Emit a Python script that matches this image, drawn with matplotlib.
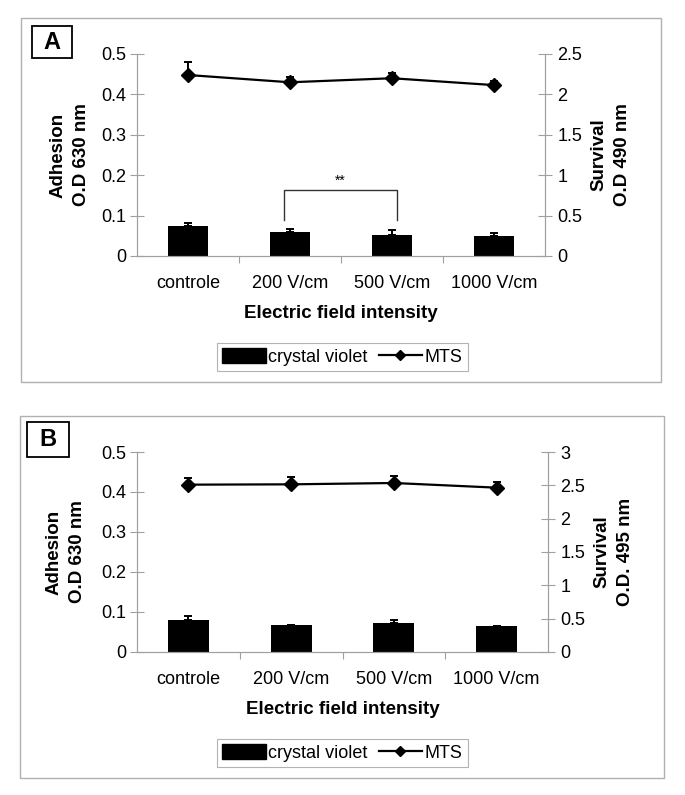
import matplotlib
matplotlib.use("Agg")
import matplotlib.pyplot as plt
from matplotlib.patches import Rectangle
from matplotlib.lines import Line2D
import numpy as np

plt.rcParams['font.family'] = ['Liberation Sans', 'DejaVu Sans']

categories = ["controle", "200 V/cm", "500 V/cm", "1000 V/cm"]

# Panel A
cv_A = [0.075, 0.059, 0.051, 0.050]
cv_A_err = [0.007, 0.007, 0.013, 0.008]
mts_A = [2.24, 2.15, 2.20, 2.115]
mts_A_err = [0.165, 0.065, 0.065, 0.05]

# Panel B
cv_B = [0.079, 0.067, 0.0725, 0.065]
cv_B_err = [0.010, 0.001, 0.008, 0.001]
mts_B = [2.51, 2.515, 2.535, 2.465]
mts_B_err = [0.105, 0.105, 0.105, 0.085]

left_ticks = [0, 0.1, 0.2, 0.3, 0.4, 0.5]
left_ticklabels = ["0", "0.1", "0.2", "0.3", "0.4", "0.5"]
right_ticks_A = [0, 0.5, 1, 1.5, 2, 2.5]
right_ticklabels_A = ["0", "0.5", "1", "1.5", "2", "2.5"]
right_ticks_B = [0, 0.5, 1, 1.5, 2, 2.5, 3]
right_ticklabels_B = ["0", "0.5", "1", "1.5", "2", "2.5", "3"]

W, H = 685, 795
fig = plt.figure(figsize=(W / 100, H / 100), dpi=100)

GRAY = "#a0a0a0"
TICK_FS = 13
CAT_FS = 13
LAB_FS = 13.5
LEG_FS = 13


def px(x0, y0, x1, y1):
    return [x0 / W, 1 - y1 / H, (x1 - x0) / W, (y1 - y0) / H]


def fx(x):
    return x / W


def fy(y):
    return 1 - y / H


def panel(axrect, boxrect, labelbox, letter, cv, cv_err, mts, mts_err,
          rticks, rlabels, rmax, rlabel, legend_rect, ylab_x, xlab_y, bracket=None):
    bx0, by0, bx1, by1 = boxrect
    fig.add_artist(Rectangle((fx(bx0), fy(by1)), (bx1 - bx0) / W, (by1 - by0) / H,
                             transform=fig.transFigure, fill=False, edgecolor="#b0b0b0", lw=1.0))
    lx0, ly0, lx1, ly1 = labelbox
    fig.add_artist(Rectangle((fx(lx0), fy(ly1)), (lx1 - lx0) / W, (ly1 - ly0) / H,
                             transform=fig.transFigure, fill=False, edgecolor="black", lw=1.3))
    fig.text(fx((lx0 + lx1) / 2), fy((ly0 + ly1) / 2 + 0.5), letter, ha="center", va="center",
             fontsize=17, fontweight="bold")

    ax = fig.add_axes(px(*axrect))
    x = np.arange(len(categories))
    ax.bar(x, cv, width=0.40, color="black", zorder=2)
    ax.errorbar(x, cv, yerr=[np.zeros(len(cv)), cv_err], fmt="none", ecolor="black",
                elinewidth=1.4, capsize=3.2, capthick=1.4, zorder=3)
    ax.set_xlim(-0.5, 3.5)
    ax.set_ylim(0, 0.5)
    ax.set_yticks(left_ticks)
    ax.set_yticklabels(left_ticklabels)
    ax.set_xticks(x)
    ax.set_xticklabels(categories)
    ax.set_xticks([0.5, 1.5, 2.5], minor=True)
    ax.tick_params(axis="x", which="major", length=0, pad=13.5, labelsize=CAT_FS)
    ax.tick_params(axis="x", which="minor", length=5, direction="out", color=GRAY, width=0.8)
    ax.tick_params(axis="y", which="major", length=10, direction="inout", color=GRAY,
                   width=0.8, labelsize=TICK_FS, pad=3)
    ax.spines["top"].set_visible(False)
    for s in ["left", "right", "bottom"]:
        ax.spines[s].set_color(GRAY)
        ax.spines[s].set_linewidth(0.8)

    ax2 = ax.twinx()
    ax2.set_ylim(0, rmax)
    ax2.errorbar(x, mts, yerr=[np.zeros(len(mts)), mts_err], fmt="none", ecolor="black",
                 elinewidth=1.4, capsize=3.2, capthick=1.4, zorder=3)
    ax2.plot(x, mts, color="black", lw=1.6, marker="D", markersize=7, zorder=4)
    ax2.set_yticks(rticks)
    ax2.set_yticklabels(rlabels)
    ax2.tick_params(axis="y", length=10, direction="inout", color=GRAY, width=0.8,
                    labelsize=TICK_FS, pad=4)
    ax2.spines["top"].set_visible(False)
    for s in ["left", "right", "bottom"]:
        ax2.spines[s].set_color(GRAY)
        ax2.spines[s].set_linewidth(0.8)

    ymid = fy((axrect[1] + axrect[3]) / 2)
    fig.text(fx(ylab_x[0]), ymid, "Adhesion\nO.D 630 nm", rotation=90, ha="center",
             va="center", multialignment="center", fontsize=LAB_FS, fontweight="bold",
             linespacing=1.5)
    fig.text(fx(ylab_x[1]), ymid, "Survival\n" + rlabel, rotation=90, ha="center",
             va="center", multialignment="center", fontsize=LAB_FS, fontweight="bold",
             linespacing=1.5)
    fig.text(fx((axrect[0] + axrect[2]) / 2), fy(xlab_y), "Electric field intensity",
             ha="center", va="center", fontsize=LAB_FS, fontweight="bold")

    if bracket is not None:
        bx_a, bx_b, y_low, y_top, y_txt = bracket
        ax.plot([bx_a, bx_a, bx_b, bx_b], [y_low, y_top, y_top, y_low], color="#333333",
                lw=1.0, zorder=4)
        ax.text((bx_a + bx_b) / 2, y_txt, "**", ha="center", va="center", fontsize=10)

    handles = [Rectangle((0, 0), 1, 1, color="black"),
               Line2D([], [], color="black", lw=1.6, marker="D", markersize=5.5)]
    lg_x0, lg_y0, lg_x1, lg_y1 = legend_rect
    leg = fig.legend(handles, ["crystal violet", "MTS"], ncol=2, loc="center",
                     bbox_to_anchor=(fx((lg_x0 + lg_x1) / 2), fy((lg_y0 + lg_y1) / 2)),
                     frameon=True, fancybox=False, fontsize=LEG_FS, handlelength=2.4,
                     handleheight=0.9, handletextpad=0.15, columnspacing=0.6,
                     borderpad=0.3, borderaxespad=0, edgecolor=GRAY)
    leg.get_frame().set_linewidth(0.8)
    return ax


panel((137, 54, 545, 256), (21, 18, 661, 382), (32, 26, 72, 58), "A",
      cv_A, cv_A_err, mts_A, mts_A_err, right_ticks_A, right_ticklabels_A, 2.5,
      "O.D 490 nm", (222, 343, 463, 371), (70, 611), 314,
      bracket=(0.94, 2.05, 0.09, 0.1625, 0.185))

panel((137, 452, 548, 652), (20, 416, 664, 778), (27, 422, 69, 457), "B",
      cv_B, cv_B_err, mts_B, mts_B_err, right_ticks_B, right_ticklabels_B, 3,
      "O.D. 495 nm", (222, 739, 463, 767), (66, 614), 709)

fig.savefig("out.png", dpi=100, facecolor="white")
